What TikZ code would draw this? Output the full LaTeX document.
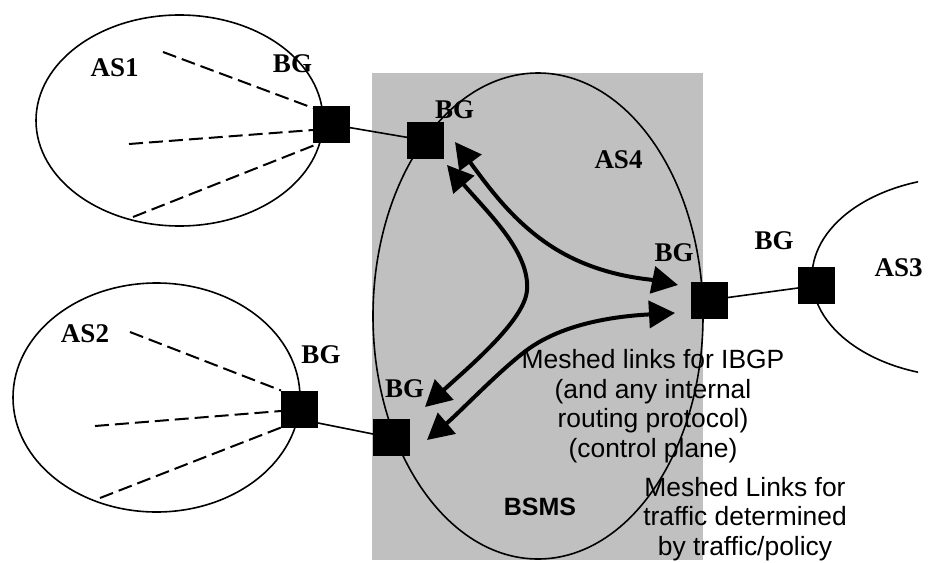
\documentclass[tikz,border=0pt]{standalone}
\usepackage{fontspec}
\setmainfont{Liberation Serif}
\newfontfamily\arialfont{Liberation Sans}
\usetikzlibrary{arrows.meta}
\definecolor{panelgray}{RGB}{192,192,192}
\pgfdeclarelayer{background}
\pgfsetlayers{background,main}

\tikzset{
  meshtip/.tip={Triangle[length=26pt,width=27pt]},
  border/.style={line width=1.6pt},
  link/.style={line width=1.6pt},
  dashline/.style={line width=2pt, dash pattern=on 14pt off 6pt},
  gw/.style={fill=black, draw=none, minimum size=37pt, inner sep=0pt, outer sep=0pt},
  tag/.style={font=\fontsize{27}{27}\selectfont\bfseries, anchor=base, inner sep=0pt},
  note/.style={font=\arialfont\fontsize{26.4}{29.5}\selectfont, align=center, anchor=base, inner sep=0pt},
  mesh/.style={line width=4pt, arrows={meshtip-meshtip}}
}

\begin{document}
\begin{tikzpicture}[x=1pt,y=-1pt]
\useasboundingbox (0,0) rectangle (928,562);

% border gateways
\node[gw] (g1)  at (331.5,124.5) {};
\node[gw] (g4a) at (425.5,140.5) {};
\node[gw] (g4r) at (709.5,300) {};
\node[gw] (g3)  at (816.5,285.5) {};
\node[gw] (g2)  at (299.5,409) {};
\node[gw] (g4b) at (391.5,437.5) {};

% free ends of the dashed internal links
\coordinate (d1a) at (163,52);
\coordinate (d1b) at (129,144);
\coordinate (d1c) at (133,217);
\coordinate (d2a) at (130,332);
\coordinate (d2b) at (95,426);
\coordinate (d2c) at (100,498);

\begin{pgfonlayer}{background}
  % BSMS panel
  \fill[panelgray] (372,73) rectangle (703,560);
  % autonomous systems
  \draw[border] (179.5,120.5) ellipse [x radius=143.5, y radius=105.5];
  \draw[border] (156.5,397.5) ellipse [x radius=143.5, y radius=114.5];
  \draw[border] (538,316) ellipse [x radius=165, y radius=243];
  \begin{scope}
    \clip (0,0) rectangle (918,562);
    \draw[border] (965,277) ellipse [x radius=153, y radius=100];
  \end{scope}
  % internal links
  \draw[dashline] (d1a) -- ([yshift=-2pt]g1.north west);
  \draw[dashline] (d1b) -- ([yshift=-5.5pt]g1.west);
  \draw[dashline] (d1c) -- ([xshift=7pt]g1.south west);
  \draw[dashline] (d2a) -- (g2.north west);
  \draw[dashline] (d2b) -- ([yshift=-2pt]g2.west);
  \draw[dashline] (d2c) -- (g2.south west);
  % external links
  \draw[link] (g1) -- (g4a);
  \draw[link] (g4r) -- (g3);
  \draw[link] ([yshift=-14pt]g2.east) -- ([yshift=3.5pt]g4b.west);
\end{pgfonlayer}

% labels
\node[tag] (as1) at (114.6,76) {AS1};
\node[tag] (bg1) at (292.5,72.7) {BG};
\node[tag] (bg4a) at (454.5,118) {BG};
\node[tag] (as4) at (618.5,168) {AS4};
\node[tag] (bg4r) at (674,261) {BG};
\node[tag] (bg3) at (774,249) {BG};
\node[tag] (as3) at (898.5,276) {AS3};
\node[tag] (as2) at (85,342) {AS2};
\node[tag] (bg2) at (321,363) {BG};
\node[tag] (bg4b) at (404.5,397) {BG};
\node[font=\arialfont\bfseries\fontsize{25}{25}\selectfont, anchor=base, inner sep=0pt] (bsms) at (540,515) {BSMS};

% the base anchor of a multi-line note sits on its last line
\node[note] (n1) at (653,457) {Meshed links for IBGP\\(and any internal\\routing protocol)\\(control plane)};
\node[note] (n2) at (745,555) {Meshed Links for\\traffic determined\\by traffic/policy};

% meshed links between the BSMS gateways
\coordinate (a1s) at (455,142);
\coordinate (a1e) at (678,285);
\coordinate (a2s) at (447,165);
\coordinate (a2e) at (425,407);
\coordinate (a3s) at (427,440);
\coordinate (a3e) at (675,313);
\draw[mesh] (a1s) .. controls (490,189) and (520,232) .. (570,257)
                  .. controls (610,277) and (648,279) .. (a1e);
\draw[mesh] (a2s) .. controls (488,213) and (530,252) .. (527,290)
                  .. controls (525,320) and (470,366) .. (a2e);
\draw[mesh] (a3s) .. controls (460,412) and (500,370) .. (527,350)
                  .. controls (565,322) and (620,316) .. (a3e);
\end{tikzpicture}
\end{document}
